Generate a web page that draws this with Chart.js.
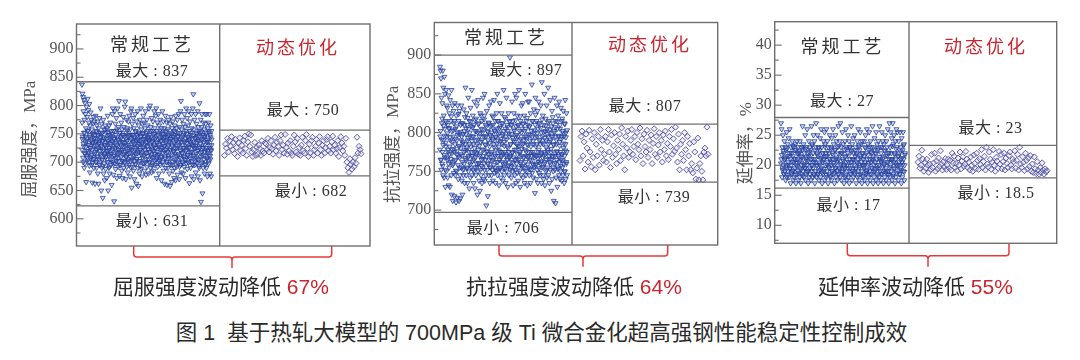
<!DOCTYPE html>
<html lang="zh">
<head>
<meta charset="utf-8">
<style>
html,body{margin:0;padding:0;background:#fff;width:1080px;height:360px;overflow:hidden}
canvas{position:absolute;top:0}
#cap{position:absolute;left:0;width:1083px;top:318px;text-align:center;font:21.5px/30px "Liberation Sans","Noto Sans CJK SC",sans-serif;color:#2a2a2a;white-space:pre}
</style>
<script src="https://cdn.jsdelivr.net/npm/chart.js@4"></script>
</head>
<body>
<canvas id="c1" width="372" height="300" style="left:0"></canvas>
<canvas id="c2" width="352" height="300" style="left:372px"></canvas>
<canvas id="c3" width="350" height="300" style="left:730px"></canvas>
<div id="cap">图 1  基于热轧大模型的 700MPa 级 Ti 微合金化超高强钢性能稳定性控制成效</div>
<script>
// ---------- values ----------
const yieldConventional = [
837,770,821,745,815,700,790,728,810,690,775,752,805,715,785,735,760,665,798,720,742,780,708,812,755,730,
792,716,770,700,803,745,682,765,725,788,738,710,775,695,758,722,664,750,733,768,705,780,690,742,
772,715,748,662,730,782,700,755,722,690,765,738,710,772,680,748,725,662,760,705,735,778,695,720,752,
795,712,745,650,728,768,690,752,705,637,738,775,680,722,758,698,742,668,715,765,730,688,752,710,735,
672,760,720,700,782,738,650,712,748,690,765,725,680,742,705,770,732,695,755,715,660,745,722,785,700,
795,735,678,755,712,631,742,790,698,725,768,688,748,708,778,730,672,758,716,795,740,692,722,762,702,
808,735,676,752,718,785,695,742,710,770,728,685,758,722,672,748,702,780,735,690,762,715,745,798,700,
807,728,670,752,710,775,692,738,760,720,682,745,705,772,730,695,782,716,748,675,758,726,702,790,740,
795,655,722,768,692,748,712,778,685,735,760,702,670,745,722,785,696,755,715,738,662,772,706,748,728,
790,690,740,658,765,718,752,680,732,775,702,745,722,795,688,758,712,735,675,768,726,750,698,782,740,
712,770,685,745,722,760,700,790,735,678,752,716,775,692,742,728,765,705,755,680,738,795,718,748,700,
800,730,690,762,712,745,682,778,722,755,698,738,772,708,750,685,728,790,715,760,695,742,725,782,705,
795,735,672,755,718,770,692,748,712,785,730,680,765,702,742,722,775,695,752,710,738,668,760,725,745,
790,700,750,716,772,685,740,728,760,662,745,708,782,722,690,755,735,700,770,660,745,718,758,690,730,
775,708,748,680,738,768,658,722,752,695,780,712,742,665,760,728,700,772,685,745,720,755,672,735,690,
765,715,748,668,782,705,738,760,692,725,775,678,745,712,752,698,785,730,670,762,708,740,722,790,695,
808,735,682,758,716,775,700,745,725,680,768,710,752,692,785,735,705,762,672,742,720,795,698,750,728,
778,688,745,712,765,700,738,790,725,663,755,708,772,735,690,748,718,785,675,760,702,742,730,795,695,
820,728,670,758,712,775,695,742,725,785,682,752,708,768,735,698,745,720,790,675,762,705,738,755,690,
804,725,668,752,716,775,630,740,698,762,785,712,645,748,725,690,770,735,705,758,680,745,718,785,695,
768,725,752,690,785,735,708,675,760,720,742,770,698,755,712,785,730,680,748,705,765,722,675,755,740,
];
const yieldConventionalCore = [
722,741,708,733,752,716,698,745,727,711,738,703,756,719,731,694,748,725,707,740,713,735,699,751,
729,706,743,718,736,701,754,723,710,747,732,696,739,715,728,749,704,737,720,693,744,712,730,757,
709,726,742,717,700,753,734,721,692,746,714,729,705,750,737,724,697,741,711,733,755,719,702,744,
728,707,739,716,695,752,731,722,745,703,736,713,748,726,699,734,718,742,708,730,756,715,701,747,
723,738,710,691,749,727,704,735,719,743,712,732,697,754,725,706,740,716,729,750,702,737,721,693,
746,714,733,708,752,726,698,741,717,730,705,748,735,711,723,744,700,739,718,755,728,709,736,694,
742,720,731,703,751,715,725,746,707,734,699,740,713,727,756,704,737,722,710,749,732,696,743,719,
729,706,753,716,738,701,726,747,712,735,697,741,721,708,750,730,695,745,718,733,703,754,724,711,
739,700,728,746,714,736,692,751,720,707,742,731,716,698,748,725,710,737,704,755,722,734,713,744,
699,727,740,717,706,752,732,719,696,747,711,735,724,701,743,729,715,750,705,738,721,693,746,728,
733,709,754,718,700,741,726,745,712,731,697,749,722,706,739,716,736,703,752,725,711,744,720,730,
];
const yieldOptimized = [
712,732,725,742,718,738,728,745,722,735,715,740,726,710,734,743,720,730,716,738,746,724,712,736,750,
728,748,718,710,722,735,712,726,714,730,724,712,738,720,716,734,732,722,742,718,726,738,724,714,730,
744,720,735,728,712,738,748,722,730,716,749,726,714,734,720,738,716,712,728,748,736,718,742,714,726,
712,730,744,720,716,738,749,724,710,732,716,738,744,712,722,728,740,716,734,745,722,712,730,738,716,
726,740,745,720,728,716,736,746,722,730,716,724,738,710,726,745,734,720,728,712,742,700,690,682,
706,696,688,700,692,708,698,744,716,728,722,715,
];
const tensileConventional = [
885,795,880,765,870,752,845,812,760,838,775,880,745,858,790,822,742,872,805,768,850,730,815,782,855,
750,835,795,765,832,742,810,778,848,732,805,755,825,772,730,842,790,762,815,745,855,720,802,778,835,
712,795,760,828,748,812,775,718,838,785,745,805,765,710,822,750,790,772,716,835,800,758,740,815,782,
712,828,768,798,745,715,810,780,755,835,795,738,770,720,812,752,788,745,830,775,760,802,735,820,785,
858,765,798,745,825,778,755,810,735,790,768,845,750,805,775,728,815,762,795,742,832,782,755,808,770,
855,745,795,770,822,752,785,735,810,765,840,775,728,802,755,790,745,818,772,760,835,785,720,800,750,
842,778,760,812,738,795,770,725,825,752,788,745,805,765,815,735,778,800,755,845,770,740,795,760,822,
850,738,785,765,810,745,795,706,775,828,752,802,760,718,790,772,812,745,835,765,782,735,808,755,795,
840,768,745,800,775,822,752,790,738,810,765,785,842,748,802,772,755,815,735,795,778,750,825,762,805,
850,745,790,770,815,752,782,732,800,765,838,775,755,808,742,792,770,825,750,785,762,812,738,798,772,
855,755,788,745,820,775,760,805,735,795,770,845,750,810,782,765,730,802,758,825,775,745,795,768,815,
897,752,785,770,810,742,798,762,840,775,750,815,732,790,768,825,755,802,778,745,850,765,795,735,808,
845,760,785,748,822,772,795,738,810,765,855,782,750,802,775,730,815,760,792,745,835,770,805,755,785,
838,742,812,768,790,755,822,735,802,778,850,762,745,795,770,815,750,785,732,810,768,840,755,798,775,
840,745,808,765,790,735,825,775,752,802,770,862,748,795,760,815,742,785,772,830,755,800,768,722,810,
845,758,782,740,815,770,795,752,828,735,805,775,762,840,748,790,770,812,745,785,760,835,772,800,735,
865,755,795,768,822,745,785,740,810,775,850,760,732,802,772,818,750,790,765,835,742,805,778,755,795,
858,745,785,770,815,735,800,762,842,752,790,775,725,808,765,828,740,795,770,812,750,785,712,802,760,
845,770,752,795,709,815,742,785,765,835,775,730,805,755,822,770,795,745,840,762,788,740,810,775,750,
832,765,795,738,815,772,755,802,745,828,780,760,795,735,812,770,750,842,785,740,800,762,825,775,745,
];
const tensileConventionalCore = [
778,802,765,791,818,757,784,809,771,796,752,787,813,768,799,775,760,806,782,794,766,821,773,788,
758,803,779,815,764,792,751,808,776,797,769,824,783,755,801,772,790,812,762,786,798,753,810,777,
767,805,781,754,819,793,770,785,800,759,814,775,789,763,807,795,750,780,816,768,802,774,756,791,
811,761,783,799,772,822,757,790,804,766,778,817,752,795,784,808,769,776,801,760,813,787,755,797,
773,809,764,792,820,758,781,803,770,794,751,786,815,762,798,777,806,754,789,768,812,775,796,760,
802,783,753,818,772,791,765,807,780,757,799,814,769,785,756,810,774,793,761,804,788,752,816,778,
797,766,783,809,755,790,773,821,762,800,779,757,811,786,768,795,751,805,776,792,819,759,784,770,
808,753,797,782,764,815,775,789,758,803,771,794,823,760,785,799,767,812,778,754,791,806,763,774,
817,787,756,801,770,793,762,809,781,752,798,775,813,766,788,804,759,779,795,769,820,755,784,800,
773,807,761,790,776,814,753,796,768,783,805,757,792,772,818,764,799,786,750,811,777,794,760,803,
];
const tensileOptimized = [
764,795,802,770,788,753,798,780,762,803,775,756,792,768,800,752,785,770,795,758,804,778,790,764,772,
795,762,788,804,775,755,797,768,783,800,772,760,790,778,798,764,806,785,770,752,795,780,802,768,775,
790,804,772,782,795,765,800,785,778,806,770,792,760,798,782,775,803,768,790,778,797,760,786,805,772,
795,768,784,800,775,790,762,797,778,802,770,786,765,795,782,804,772,792,776,807,780,762,798,752,
785,772,790,764,800,778,752,795,770,786,752,760,748,788,775,740,754,793,739,760,770,750,739,
775,780,770,807,772,
];
const elongationConventional = [
27,21,26,18,23,19.5,25,20,22,18.5,24,21,19,23,17.5,22.5,20,25.5,18,21.5,23.5,19,20.5,24.5,18,22,
26,19.5,21,17,23,20,18.5,22,24,19,21.5,17.5,23,20.5,18,22.5,19.5,21,23.5,17,20,18.5,24,22,
21,19,23,17.5,20.5,22,18,24,19.5,21.5,17,23,20,18.5,22.5,26.5,19,21,23.5,18,20,22,19.5,25,17.5,
21,23,18.5,20,26,19,22,17,21.5,24,18,20.5,23,19.5,22.5,17.5,21,26.5,19,23.5,20,18,22,25,18.5,
20.5,24,17,21,19,23,27,18,22,20,25,18.5,21.5,23,19,17.5,22.5,20,24.5,18,21,26,19.5,23,17,
20.5,22,18.5,24,19,21,25.5,17.5,23.5,20,22,18,26,21.5,19,24,20.5,17,23,18.5,22,19.5,25,21,18,
23,20,17.5,24.5,19,22,21,26,18.5,23.5,20,17,22.5,19.5,25,18,21,24,20.5,19,17.5,23,22,26.5,18.5,
21,19.5,24,18,27,20,23,17.5,22,19,25.5,21,18.5,23.5,20,17,22.5,19.5,24,18,21.5,26,20.5,17.5,23,
19,22,25,18,20.5,24,17,21,23,19.5,22.5,18.5,26.5,20,17.5,23.5,21,19,24.5,18,22,20,25,18.5,21.5,
23,19.5,17,22,20.5,24,18,21,26,19,23,17.5,22.5,20,25.5,18.5,21.5,23.5,19,17,24,20,22,18,21,
19.5,24,17.5,23,20.5,25,18.5,22,19,26,21,17,23.5,20,18,22.5,25.5,19,21,17.5,24,20.5,18.5,23,22,
19.5,26.5,21.5,17,23,20,18,24.5,19,22,20.5,17.5,25.5,21,18.5,23.5,19.5,22.5,17,24,20,18,26.5,21,19,
23,17.5,22,20.5,25.5,18.5,21,24,19,17,23.5,20,22.5,18,25,21.5,19.5,17.5,24,20.5,23,18.5,26,19,22,
17,21,27,18,23,20,25.5,19,22,24.5,17.5,21,27,18.5,23.5,20.5,25,19.5,22,17,24,21,18,26,20,
23,25.5,19,21.5,17.5,24,20,22,18.5,25.5,19.5,23,21,17,24.5,20.5,18,22.5,25.5,19,21,23.5,17.5,20,22,
];
const elongationConventionalCore = [
20.3,21.7,19.2,22.4,18.6,20.9,21.2,19.7,22.8,18.3,20.1,21.5,19.4,22.1,18.8,20.6,23.2,19.1,21.1,18.4,22.6,20.4,19.8,21.9,
18.7,22.3,20.8,19.3,21.4,18.2,23,20.2,19.6,22.7,21.3,18.9,20.7,19.1,22.2,18.5,21.6,20,23.3,19.5,21,18.3,22.5,20.5,
19.9,21.8,18.6,22.9,20.3,19.2,21.2,18.8,22,20.9,19.4,23.1,21.5,18.4,20.1,22.4,19.7,21.1,18.2,20.6,22.8,19,21.7,20.4,
18.7,22.6,19.6,21.3,20.8,18.5,23.2,19.3,21.9,20.2,22.1,18.9,20.7,19.8,21.4,18.3,22.7,20,19.5,21.6,23,18.6,20.5,22.3,
19.1,21,20.9,18.8,22.5,19.4,21.8,20.3,18.4,23.3,19.7,21.2,20.6,22,18.2,19.9,21.5,20.1,22.9,18.7,19.2,21.7,20.4,23.1,
18.5,22.2,19.6,21.1,20.8,18.9,22.6,19.3,21.9,20,18.3,22.8,19.5,21.4,20.7,18.6,23,19.8,21.3,20.2,22.4,18.8,19.1,21.6,
20.5,18.4,22.1,19.7,21,20.9,23.2,18.2,19.4,21.8,20.3,22.7,18.7,19.9,21.5,20.6,18.5,22.3,19.2,21.2,20.1,23.3,18.9,21.7,
];
const elongationOptimized = [
20.5,21.5,19.5,20,22.5,21,19,20.5,19.5,21,20,18.8,20.2,19.3,21.8,19.6,20.4,22,19,20.7,19.4,21.2,19.8,22.4,20.2,
19.2,20.6,19.7,21.1,19.3,20,21,19.5,20.8,19.2,22,20.4,21.5,19.6,20.3,19.1,21.2,20,22.2,19.4,20.7,21.4,19.8,20.2,22.3,
21,19.6,20.5,19.2,21.4,20,19,21.7,20.3,19.4,22,20.8,19.3,21.1,20.1,22.6,19.6,20.6,21.5,19.2,23,20.2,19.7,22.2,21,
19.3,20.5,22.6,20,19,21.3,20.7,19.5,22.3,20.2,21.8,19.4,20.6,22,19.2,21.2,20.3,19.6,21.6,22.2,20,19.4,21,20.6,22.4,
19.5,20.8,21.8,19.2,23,20.2,19.6,21.4,20.5,19.1,22,20.8,19.4,21.2,19.8,21.6,19,20.2,18.8,21.4,19.4,18.6,20.6,19.2,18.5,
19.6,18.8,20.4,19.2,18.5,19.4,18.9,19.1,
];
const tickValues = [[900,850,800,750,700,650,600],[900,850,800,750,700],[40,35,30,25,20,15,10]];
const yTitles = ["屈服强度，MPa","抗拉强度，MPa","延伸率，%"];
const methodNames = ["常规工艺","动态优化"];
const conventionalMax = [837,897,27];
const conventionalMin = [631,706,17];
const optimizedMax = [750,807,23];
const optimizedMin = [682,739,18.5];
const footers = ["屈服强度波动降低","抗拉强度波动降低","延伸率波动降低"];
const reductions = ["67%","64%","55%"];

// ---------- panel layout (page pixels) ----------
const GRAY='#6f6f6f', INK='#333', RED='#c9252e', BRACKET='#e8383c';
const SERIF='"Liberation Serif","Noto Sans CJK SC"', SANS='"Liberation Sans","Noto Sans CJK SC"';
const panels = [
 {id:'c1',left:0,w:372,area:[76.5,24,370,246],ymin:552,ymax:944,step:25,labelEvery:50,
  divider:219.7,band1:[842,623],band2:[756.5,676],
  conv:yieldConventional,core:yieldConventionalCore,opt:yieldOptimized,convX:[82,213],optX:[226,364],
  titleOff:20,titlePad:'  ',
  t:{c:[152,46],o:[298,49],cMax:[152,72],cMin:[152,222],oMax:[303,111],oMin:[311,192]},
  br:[133.7,331.7,232,246,257,268],foot:[113,288]},
 {id:'c2',left:372,w:352,area:[434.3,22.5,717.7,245],ymin:655,ymax:942,step:25,labelEvery:50,
  divider:572,band1:[900,697],band2:[811,736],
  conv:tensileConventional,core:tensileConventionalCore,opt:tensileOptimized,convX:[440,567],optX:[580,708],
  titleOff:11,titlePad:'     ',
  t:{c:[506,39],o:[650,46],cMax:[526,71],cMin:[503,229],oMax:[645,107],oMin:[654,198]},
  br:[499,667.7,583,245,256,266.7],foot:[466,288]},
 {id:'c3',left:730,w:350,area:[774.7,21.7,1056.7,243.3],ymin:7,ymax:43.9,step:2.5,labelEvery:5,
  divider:909,band1:[27.95,16.2],band2:[23.3,17.9],
  conv:elongationConventional,core:elongationConventionalCore,opt:elongationOptimized,convX:[781,905],optX:[918,1047],
  titleOff:6,titlePad:'     ',
  t:{c:[842.5,48],o:[986,48],cMax:[842,102],cMin:[848.5,206],oMax:[990.5,129],oMin:[996,194]},
  br:[847.3,1009,928,243.3,255.7,266.7],foot:[818,288]},
];

function spread(vals,[a,b]){return vals.map((v,i)=>({x:a+i*(b-a)/(vals.length-1),y:v}));}

panels.forEach((p,n)=>{
  const [al,at,ar,ab]=p.area;
  const overlay={id:'overlay'+n,
    afterDraw(ch){
      const c=ch.ctx,y=ch.scales.y,ox=p.left;
      const line=(x1,y1,x2,y2,col,w)=>{c.strokeStyle=col;c.lineWidth=w;c.beginPath();c.moveTo(x1-ox,y1);c.lineTo(x2-ox,y2);c.stroke();};
      c.save();
      c.strokeStyle=GRAY;c.lineWidth=1.4;c.strokeRect(al-ox,at,ar-al,ab-at);
      line(p.divider,at,p.divider,ab,GRAY,1.4);
      p.band1.forEach(v=>{const py=y.getPixelForValue(v);line(al,py,p.divider,py,GRAY,1.3);});
      p.band2.forEach(v=>{const py=y.getPixelForValue(v);line(p.divider,py,ar,py,GRAY,1.3);});
      y.ticks.forEach(t=>{
        const py=y.getPixelForValue(t.value),major=t.value%p.labelEvery===0;
        line(al,py,al+(major?7:4),py,GRAY,1.1);
      });
      const put=(s,[x,yy],font,col,sp)=>{c.font=font;c.fillStyle=col;c.letterSpacing=sp;c.textAlign='center';c.textBaseline='middle';c.fillText(s,x-ox,yy);};
      put(methodNames[0],p.t.c,'18px '+SERIF,INK,'3px');
      put(methodNames[1],p.t.o,'18px '+SERIF,RED,'3px');
      const f='16px '+SERIF;
      put('最大 : '+conventionalMax[n],p.t.cMax,f,INK,'0.5px');
      put('最小 : '+conventionalMin[n],p.t.cMin,f,INK,'0.5px');
      put('最大 : '+optimizedMax[n],p.t.oMax,f,INK,'0.5px');
      put('最小 : '+optimizedMin[n],p.t.oMin,f,INK,'0.5px');
      const [bl,br,bs,b0,b1,b2]=p.br;
      c.strokeStyle=BRACKET;c.lineWidth=1.5;c.beginPath();
      c.moveTo(bl-ox,b0);c.lineTo(bl-ox,b1-3);c.quadraticCurveTo(bl-ox,b1,bl+3-ox,b1);
      c.lineTo(bs-3-ox,b1);c.quadraticCurveTo(bs-ox,b1,bs-ox,b1+3);c.lineTo(bs-ox,b2);
      c.moveTo(bs-ox,b1+3);c.quadraticCurveTo(bs-ox,b1,bs+3-ox,b1);
      c.lineTo(br-3-ox,b1);c.quadraticCurveTo(br-ox,b1,br-ox,b1-3);c.lineTo(br-ox,b0);c.stroke();
      c.letterSpacing='0px';c.textAlign='left';c.textBaseline='middle';
      c.font='21px '+SANS;c.fillStyle='#2a2a2a';
      const s=footers[n]+' ';c.fillText(s,p.foot[0]-ox,p.foot[1]);
      const w=c.measureText(s).width;
      c.fillStyle=RED;c.fillText(reductions[n],p.foot[0]-ox+w,p.foot[1]);
      c.restore();
    }};
  const convStyle={pointStyle:'triangle',rotation:180,radius:2.9,
    borderColor:'rgba(36,64,158,0.78)',backgroundColor:'rgba(90,110,190,0.28)',borderWidth:1};
  new Chart(document.getElementById(p.id),{
    type:'scatter',
    data:{datasets:[
      {label:methodNames[0],data:spread(p.conv,p.convX),...convStyle},
      {label:methodNames[0]+' core',data:spread(p.core,p.convX),...convStyle},
      {label:methodNames[1],data:spread(p.opt,p.optX),pointStyle:'rectRot',radius:3,
       borderColor:'rgba(80,80,160,0.9)',backgroundColor:'rgba(200,200,235,0.3)',borderWidth:1},
    ]},
    options:{
      responsive:false,animation:false,
      layout:{padding:{top:at,bottom:300-ab,left:0,right:p.left+p.w-ar}},
      plugins:{legend:{display:false},tooltip:{enabled:false}},
      scales:{
        x:{type:'linear',display:false,min:al,max:ar},
        y:{type:'linear',min:p.ymin,max:p.ymax,
          afterFit(s){s.width=al-p.left;},
          grid:{display:false,drawTicks:false},border:{display:false},
          title:{display:true,text:yTitles[n]+p.titlePad,color:'#555',font:{family:SERIF,size:17},padding:{top:p.titleOff,bottom:0}},
          ticks:{stepSize:p.step,includeBounds:false,autoSkip:false,padding:3,maxRotation:0,color:'#555',font:{family:SERIF,size:16},
            callback:v=>tickValues[n].includes(v)?String(v):''}
        }
      }
    },
    plugins:[overlay]
  });
});
</script>
</body>
</html>
